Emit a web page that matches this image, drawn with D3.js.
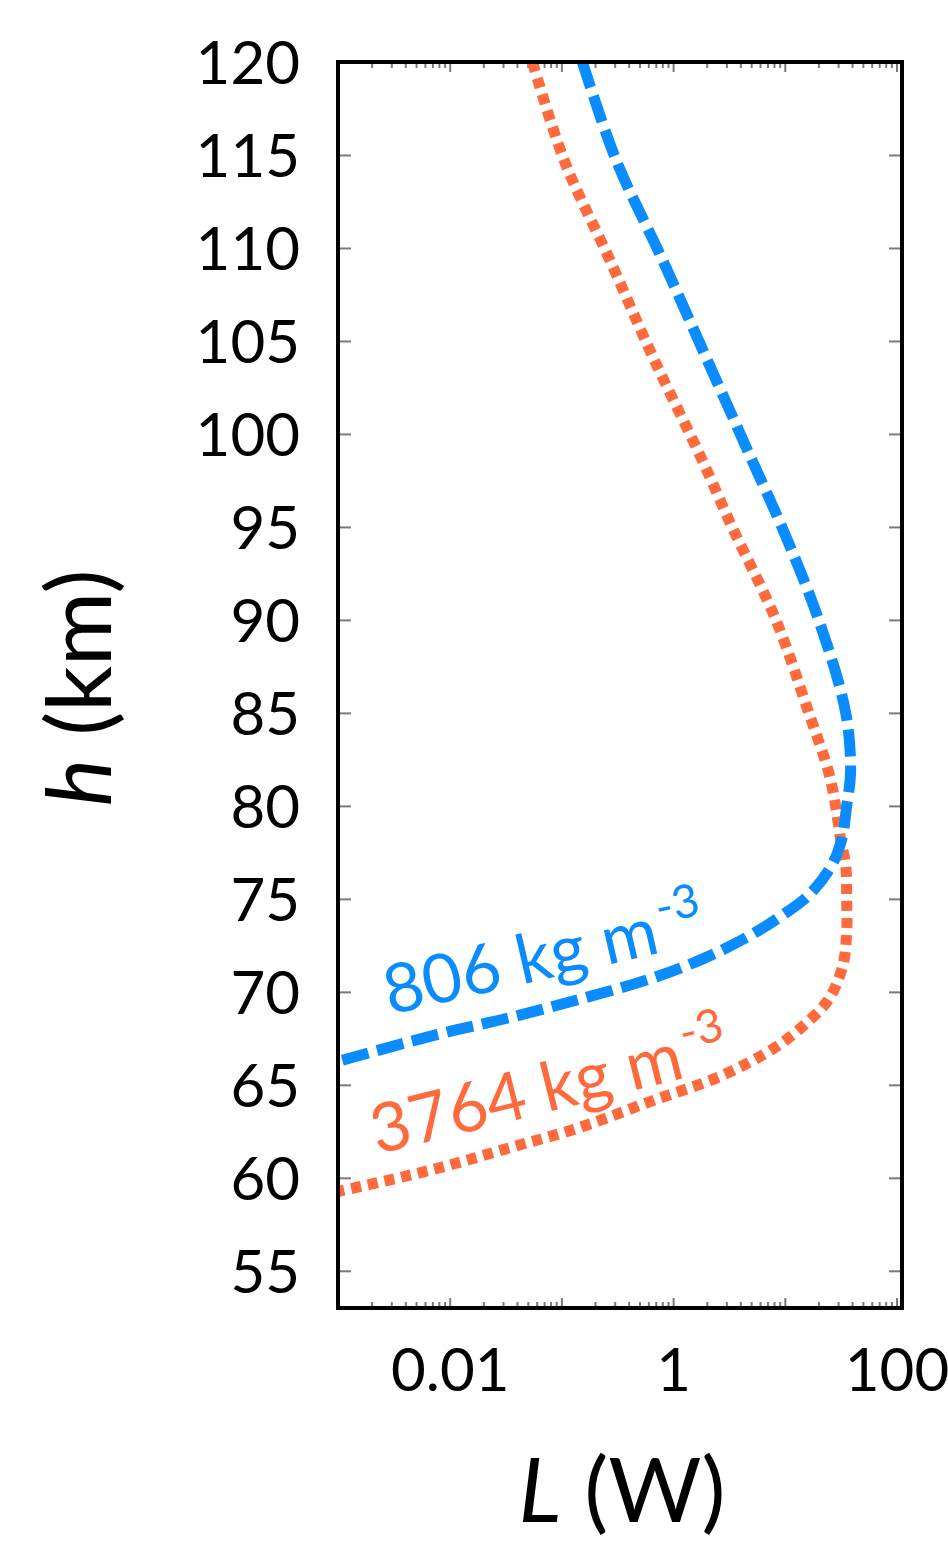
<!DOCTYPE html>
<html>
<head>
<meta charset="utf-8">
<script src="https://cdn.jsdelivr.net/npm/d3@7"></script>
<style>
  body { margin: 0; background: #fff; }
  svg { display: block; }
  text { font-family: Lato, "Open Sans", sans-serif; }
</style>
</head>
<body>
<script>
// heights (km) and power L (W)
var blueH = [120, 114.7, 109.4, 104, 98.6, 95, 90, 85, 81.8, 80, 78.2, 76.8, 75.2, 74.1, 73.0, 71.8, 70.7, 69.6, 68.6, 67.7, 66.3, 66.0];
var blueL = [0.154, 0.310, 0.798, 2.01, 5.07, 9.40, 20.1, 35.1, 38.8, 35.8, 32.3, 26.3, 16.4, 9.40, 4.78, 1.89, 0.624, 0.145, 0.0337, 0.00766, 0.00106, 0.00071];

var orangeH = [120, 114.7, 109.4, 104, 98.6, 95, 90, 85, 81.8, 80, 78.2, 76.8, 75, 73.2, 71.4, 69.6, 68.2, 67.0, 65.5, 64.1, 62.7, 61.6, 60.5, 59.3, 59.1];
var orangeL = [0.0551, 0.106, 0.269, 0.676, 1.82, 3.37, 8.32, 16.4, 24.7, 28.5, 31.6, 35.1, 35.8, 35.8, 33.0, 24.7, 14.8, 8.15, 2.74, 0.624, 0.145, 0.0337, 0.00766, 0.00106, 0.0007];

var yTicks = d3.range(55, 121, 5);
var xLabelTicks = [0.01, 1, 100];
var labels = [
    { text: "806 kg m", sup: "-3", L: 0.0029, h: 68.75, angle: -13, color: "#0a8cff" },
    { text: "3764 kg m", sup: "-3", L: 0.00225, h: 61.25, angle: -14, color: "#ff6a3d" }
];

(() => {
    var W = 948, H = 1544;
    var margin = { top: 62, left: 338, right: 46, bottom: 236 };
    var w = W - margin.left - margin.right,
        h = H - margin.top - margin.bottom;

    var svg = d3.select("body").append("svg").attr("width", W).attr("height", H);
    var graph = svg.append("g").attr("transform", "translate(" + [margin.left, margin.top] + ")");

    var x = d3.scaleLog().domain([0.001, 112]).range([0, w]);
    var y = d3.scaleLinear().domain([53, 120]).range([h, 0]);

    graph.append("clipPath").attr("id", "plot-clip")
        .append("rect").attr("width", w).attr("height", h);

    // y axis, left with labels, right ticks only
    var yAxisL = d3.axisLeft(y).tickValues(yTicks).tickSize(-13).tickPadding(38);
    var yL = graph.append("g").call(yAxisL);
    var yR = graph.append("g").attr("transform", "translate(" + w + ",0)")
        .call(d3.axisRight(y).tickValues(yTicks).tickSize(-13).tickFormat(""));

    // x axis: decades longer, 2..9 shorter
    var allTicks = [];
    for (var e = -3; e <= 2; e++) {
        for (var m = 1; m <= 9; m++) {
            var v = m * Math.pow(10, e);
            if (v <= 112) allTicks.push(v);
        }
    }
    var xB = graph.append("g").attr("transform", "translate(0," + h + ")")
        .call(d3.axisBottom(x).tickValues(allTicks).tickSize(-6).tickPadding(40)
            .tickFormat(d => xLabelTicks.indexOf(d) >= 0 ? d3.format("~g")(d) : ""));
    var xT = graph.append("g")
        .call(d3.axisTop(x).tickValues(allTicks).tickSize(-6).tickFormat(""));

    [xB, xT].forEach(g => {
        g.selectAll(".tick line").filter(d => Math.abs(Math.log10(d) - Math.round(Math.log10(d))) < 1e-9)
            .attr("y2", g === xB ? -10 : 10);
    });

    [yL, yR, xB, xT].forEach(g => {
        g.select(".domain").remove();
        g.selectAll(".tick line").attr("stroke", "#7a7a7a").attr("stroke-width", 2);
        g.selectAll(".tick text").attr("fill", "#000").style("font-size", "60px");
    });
    yL.selectAll(".tick text").attr("dy", "0.36em");
    xB.selectAll(".tick text").attr("dy", "0.71em");

    var line = d3.line()
        .x(d => x(d[1]))
        .y(d => y(d[0]))
        .curve(d3.curveCatmullRom);

    var curves = graph.append("g").attr("clip-path", "url(#plot-clip)");

    curves.append("path")
        .datum(d3.zip(orangeH, orangeL))
        .attr("d", line)
        .attr("fill", "none")
        .attr("stroke", "#ff6a3d")
        .attr("stroke-width", 11)
        .attr("stroke-dasharray", "10,7");

    curves.append("path")
        .datum(d3.zip(blueH, blueL))
        .attr("d", line)
        .attr("fill", "none")
        .attr("stroke", "#0a8cff")
        .attr("stroke-width", 11)
        .attr("stroke-dasharray", "27,9");

    labels.forEach(lb => {
        var t = graph.append("text")
            .attr("transform", "translate(" + [x(lb.L), y(lb.h)] + ")rotate(" + lb.angle + ")")
            .attr("fill", lb.color)
            .style("font-size", "68px")
            .text(lb.text);
        t.append("tspan").attr("dy", -28).attr("dx", 4).style("font-size", "46px").text(lb.sup);
    });

    // frame
    graph.append("rect").attr("width", w).attr("height", h)
        .attr("fill", "none").attr("stroke", "#000").attr("stroke-width", 4);

    // axis titles
    var xt = svg.append("text")
        .attr("x", 622).attr("y", 1522)
        .attr("text-anchor", "middle")
        .style("font-size", "90px");
    xt.append("tspan").style("font-style", "italic").text("L");
    xt.append("tspan").text(" (W)");

    var yt = svg.append("text")
        .attr("transform", "translate(111,688)rotate(-90)")
        .attr("text-anchor", "middle")
        .style("font-size", "90px");
    yt.append("tspan").style("font-style", "italic").text("h");
    yt.append("tspan").text(" (km)");
})();
</script>
</body>
</html>
